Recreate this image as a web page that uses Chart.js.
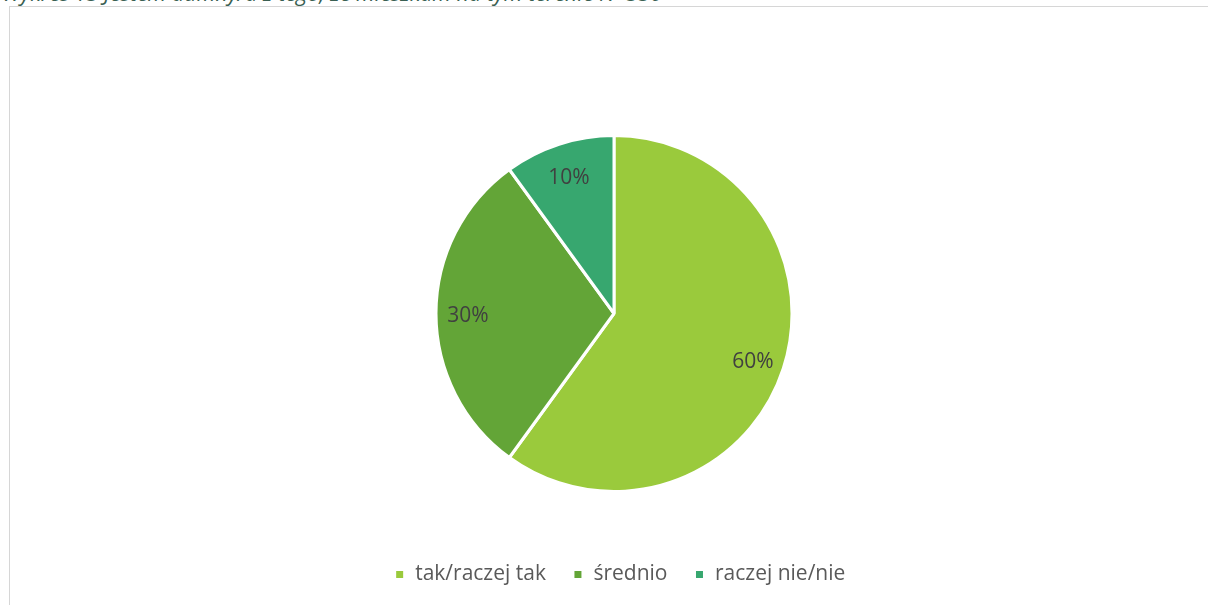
<!DOCTYPE html>
<html>
<head>
<meta charset="utf-8">
<script src="https://cdn.jsdelivr.net/npm/chart.js@4"></script>
<style>
  html, body { margin: 0; padding: 0; background: #fff; overflow: hidden; width: 1208px; height: 605px; }
  #title { position: absolute; left: 2px; top: -22px; font-family: "Open Sans", sans-serif; font-style: italic; font-size: 21.5px; color: #3a5f52; white-space: nowrap; }
  #frame { position: absolute; left: 9px; top: 6px; width: 1210px; height: 620px; border: 1px solid #d6d6d6; box-sizing: border-box; }
  #wrap { position: absolute; left: 10px; top: 7px; width: 1198px; height: 610px; }
</style>
</head>
<body>
<div id="title">Wykres 13 Jestem dumny/a z tego, że mieszkam na tym terenie N=330</div>
<div id="frame"></div>
<div id="wrap"><canvas id="c"></canvas></div>
<script>
const categories = ["tak/raczej tak", "średnio", "raczej nie/nie"];
const values = [60, 30, 10];
const colors = ["#9ACA3C", "#63A537", "#37A76F"];

const pieLabels = {
  id: 'pieLabels',
  afterDatasetsDraw(chart) {
    const ctx = chart.ctx;
    const meta = chart.getDatasetMeta(0);
    ctx.save();
    ctx.font = '21px "Open Sans", sans-serif';
    ctx.fillStyle = '#404040';
    ctx.textAlign = 'center';
    ctx.textBaseline = 'middle';
    meta.data.forEach((arc, i) => {
      const p = arc.getProps(['x','y','startAngle','endAngle','outerRadius'], true);
      const mid = (p.startAngle + p.endAngle) / 2;
      const r = p.outerRadius * 0.82;
      ctx.fillText(values[i] + '%', p.x + Math.cos(mid) * r, p.y + Math.sin(mid) * r + 3);
    });
    ctx.restore();
  }
};

const legendShift = {
  id: 'legendShift',
  afterLayout(chart) {
    if (chart.legend) { chart.legend.left += 6; chart.legend.right += 6; }
  }
};

const canvas = document.getElementById('c');
canvas.width = 1198; canvas.height = 610;
new Chart(canvas, {
  type: 'pie',
  data: {
    labels: categories,
    datasets: [{ data: values, backgroundColor: colors, borderColor: '#ffffff', borderWidth: 3 }]
  },
  options: {
    responsive: false,
    animation: false,
    layout: { padding: { top: 127, left: 10, right: 0, bottom: 22 } },
    plugins: {
      tooltip: { enabled: false },
      legend: {
        position: 'bottom',
        title: { display: true, text: ' ', font: { size: 10 }, padding: { top: 17, bottom: 15 } },
        labels: {
          boxWidth: 10, boxHeight: 10, padding: 27,
          color: '#595959',
          font: { family: '"Open Sans", sans-serif', size: 21 }
        }
      }
    }
  },
  plugins: [pieLabels, legendShift]
});
</script>
</body>
</html>
